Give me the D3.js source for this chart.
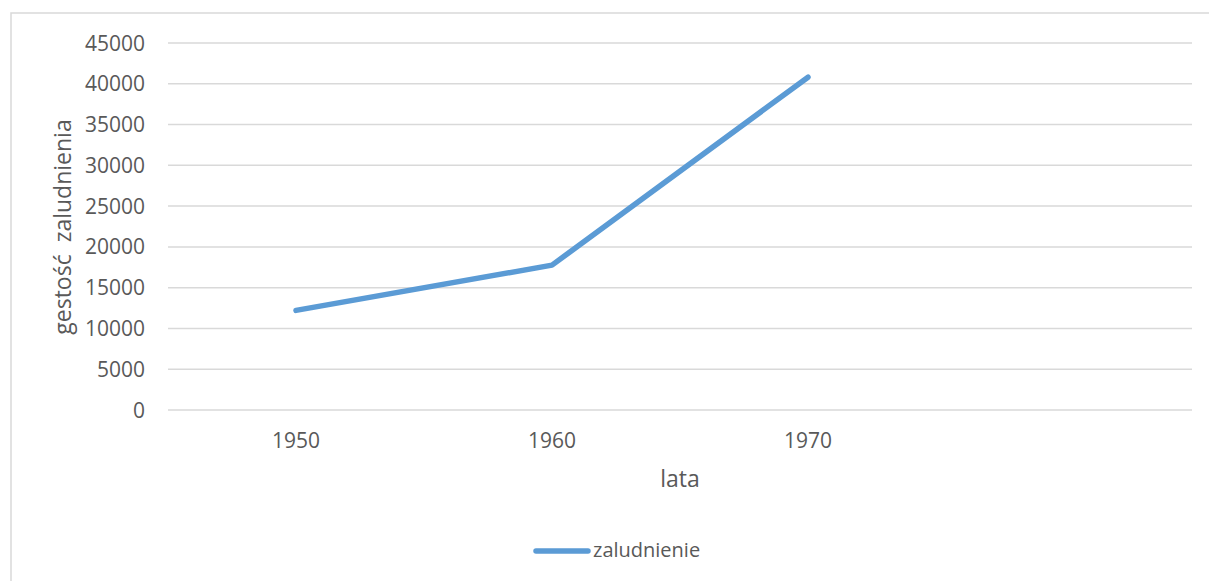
<!DOCTYPE html>
<html>
<head>
<meta charset="utf-8">
<script src="https://cdn.jsdelivr.net/npm/d3@7"></script>
<style>
  body { margin: 0; background: #fff; overflow: hidden; }
  svg { display: block; }
  svg text { font-family: "Open Sans", sans-serif; }
</style>
</head>
<body>
<div id="chart"></div>
<script>
// dane
const years = ["1950", "1960", "1970", ""];
const zaludnienie = [12150, 17700, 40750];
const yTicks = [0, 5000, 10000, 15000, 20000, 25000, 30000, 35000, 40000, 45000];
const seriesName = "zaludnienie";

const W = 1209, H = 581;
const PLOT = { LEFT: 168, RIGHT: 1192, TOP: 42.5, BOTTOM: 409.5 };
const TEXT = "#595959", GRID = "#d9d9d9", BLUE = "#5b9bd5";

const svg = d3.select("#chart")
    .append("svg")
    .attr("width", W)
    .attr("height", H);

// ramka wykresu (tylko lewa i górna krawędź mieści się w kadrze)
svg.append("path")
    .attr("d", `M11,${H + 5}V13H${W + 5}`)
    .attr("fill", "none")
    .attr("stroke", GRID)
    .attr("stroke-width", 1.5);

const x = d3.scaleBand()
    .domain(years)
    .range([PLOT.LEFT, PLOT.RIGHT])
    .padding(0);

const y = d3.scaleLinear()
    .domain([0, 45000])
    .range([PLOT.BOTTOM, PLOT.TOP]);

// siatka + etykiety osi Y
const yAxis = d3.axisLeft(y)
    .tickValues(yTicks)
    .tickFormat(d3.format("d"))
    .tickSize(-(PLOT.RIGHT - PLOT.LEFT))
    .tickPadding(23);

const gy = svg.append("g")
    .attr("transform", `translate(${PLOT.LEFT},0)`)
    .call(yAxis)
    .attr("font-family", null);
gy.select(".domain").remove();
gy.selectAll("line")
    .attr("stroke", GRID)
    .attr("stroke-width", 1.5);
gy.selectAll("text")
    .attr("fill", TEXT)
    .style("font-size", "21px")
    .attr("dy", "0.36em");

// etykiety osi X
const xAxis = d3.axisBottom(x)
    .tickSize(0)
    .tickPadding(0);

const gx = svg.append("g")
    .attr("transform", `translate(0,${PLOT.BOTTOM})`)
    .call(xAxis)
    .attr("font-family", null);
gx.select(".domain").remove();
gx.selectAll("text")
    .attr("fill", TEXT)
    .style("font-size", "21px")
    .attr("y", 38)
    .attr("dy", 0);

// linia serii
const line = d3.line()
    .x((d, i) => x(years[i]) + x.bandwidth() / 2)
    .y(d => y(d));

svg.append("path")
    .datum(zaludnienie)
    .attr("d", line)
    .attr("fill", "none")
    .attr("stroke", BLUE)
    .attr("stroke-width", 5.5)
    .attr("stroke-linecap", "round")
    .attr("stroke-linejoin", "round");

// tytuły osi
svg.append("text")
    .attr("x", (PLOT.LEFT + PLOT.RIGHT) / 2)
    .attr("y", 487)
    .attr("text-anchor", "middle")
    .attr("fill", TEXT)
    .style("font-size", "23px")
    .text("lata");

svg.append("text")
    .attr("transform", `translate(71,${(PLOT.TOP + PLOT.BOTTOM) / 2 + 1}) rotate(-90)`)
    .attr("text-anchor", "middle")
    .attr("fill", TEXT)
    .style("font-size", "23px")
    .style("white-space", "pre")
    .text("gestość  zaludnienia");

// legenda
const legend = svg.append("g");
legend.append("line")
    .attr("x1", 536)
    .attr("x2", 588)
    .attr("y1", 551)
    .attr("y2", 551)
    .attr("stroke", BLUE)
    .attr("stroke-width", 5.5)
    .attr("stroke-linecap", "round");
legend.append("text")
    .attr("x", 593)
    .attr("y", 557)
    .attr("fill", TEXT)
    .style("font-size", "20px")
    .text(seriesName);
</script>
</body>
</html>
